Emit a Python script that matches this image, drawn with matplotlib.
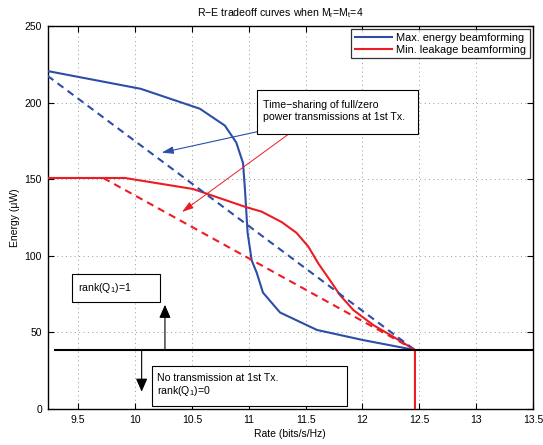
import matplotlib
matplotlib.use("Agg")
import matplotlib.pyplot as plt
from matplotlib.patches import Rectangle

plt.rcParams['font.family'] = ['Liberation Sans', 'DejaVu Sans']
plt.rcParams['mathtext.fontset'] = 'custom'
plt.rcParams['mathtext.rm'] = 'Liberation Sans'
plt.rcParams['mathtext.it'] = 'Liberation Sans'

# ---- data ----
max_energy_rate = [9.23, 10.05, 10.57, 10.79, 10.89, 10.95, 10.967, 10.99, 11.026,
                   11.07, 11.125, 11.275, 11.60, 12.005, 12.462]
max_energy_E = [220.6, 209, 196, 185, 174, 160.5, 143, 115, 97, 89, 76, 63, 51.6, 45, 38.5]

min_leak_rate = [9.23, 9.91, 10.51, 10.967, 11.114, 11.29, 11.42, 11.524, 11.612,
                 11.715, 11.802, 11.92, 12.095, 12.271, 12.462, 12.462]
min_leak_E = [150.8, 150.8, 143.6, 132, 128.8, 122, 115, 106, 95, 84, 74.4, 64.6,
              54.8, 47.2, 38.5, 0]

ts_blue_rate = [9.23, 12.462]
ts_blue_E = [217.5, 38.5]
ts_red_rate = [9.72, 12.462]
ts_red_E = [150.8, 38.5]

rank_line_rate = [9.30, 13.5]
rank_line_E = [38.5, 38.5]

xticks = [9.5, 10, 10.5, 11, 11.5, 12, 12.5, 13, 13.5]
yticks = [0, 50, 100, 150, 200, 250]

BLUE = '#2d4ea6'
RED = '#ec1c24'

fig = plt.figure(figsize=(5.43, 4.45), dpi=100)
ax = fig.add_axes([0.0875, 0.0809, 0.894, 0.8607])

ax.plot(max_energy_rate, max_energy_E, color=BLUE, lw=1.5, label='Max. energy beamforming', zorder=3)
ax.plot(min_leak_rate, min_leak_E, color=RED, lw=1.5, label='Min. leakage beamforming', zorder=3)
ax.plot(ts_blue_rate, ts_blue_E, color=BLUE, lw=1.5, ls=(0, (3.5, 2.5)), zorder=3)
ax.plot(ts_red_rate, ts_red_E, color=RED, lw=1.5, ls=(0, (3.5, 2.5)), zorder=3)
ax.plot(rank_line_rate, rank_line_E, color='black', lw=1.5, zorder=3)

ax.set_xlim(9.23, 13.5)
ax.set_ylim(0, 250)
ax.set_xticks(xticks)
ax.set_xticklabels(['9.5', '10', '10.5', '11', '11.5', '12', '12.5', '13', '13.5'])
ax.set_yticks(yticks)
ax.tick_params(direction='in', length=4, width=0.8, labelsize=7.5,
               top=True, right=True, pad=4)
ax.grid(True, color='0.6', ls=(0, (1, 3.5)), lw=0.7)
for s in ax.spines.values():
    s.set_linewidth(1.0)

ax.set_title('R\u2212E tradeoff curves when M$_r$=M$_t$=4', fontsize=7.6, pad=7, x=0.48)
ax.set_xlabel('Rate (bits/s/Hz)', fontsize=7.5, labelpad=3)
ax.set_ylabel('Energy (\u03bcW)', fontsize=7.5, labelpad=3)

leg = ax.legend(loc='upper right', fontsize=7.9, frameon=True, fancybox=False,
                edgecolor='black', borderpad=0.3, handlelength=3.4,
                handletextpad=0.4, labelspacing=0.2, borderaxespad=0.3)
leg.get_frame().set_linewidth(0.9)

# ---- annotation boxes ----
def box(x0, y0, x1, y1):
    r = Rectangle((x0, y0), x1 - x0, y1 - y0, transform=ax.transAxes,
                  facecolor='white', edgecolor='black', lw=0.8, zorder=5)
    ax.add_patch(r)

box(0.4315, 0.718, 0.763, 0.833)
ax.text(0.444, 0.778, 'Time\u2212sharing of full/zero\npower transmissions at 1st Tx.',
        transform=ax.transAxes, fontsize=7.6, va='center', ha='left', zorder=6,
        linespacing=1.15)

box(0.0511, 0.2783, 0.2317, 0.3524)
ax.text(0.062, 0.316, 'rank(Q$_1$)=1', transform=ax.transAxes, fontsize=7.6,
        va='center', ha='left', zorder=6)

box(0.2146, 0.0086, 0.6169, 0.1123)
ax.text(0.226, 0.062, 'No transmission at 1st Tx.\nrank(Q$_1$)=0', transform=ax.transAxes,
        fontsize=7.6, va='center', ha='left', zorder=6, linespacing=1.15)

# ---- arrows ----
ax.annotate('', xy=(10.234, 167.3), xytext=(11.075, 181),
            arrowprops=dict(arrowstyle='-|>,head_length=0.7,head_width=0.22',
                            color=BLUE, lw=0.8, shrinkA=0, shrinkB=0), zorder=4)
ax.annotate('', xy=(10.413, 128.6), xytext=(11.348, 179.3),
            arrowprops=dict(arrowstyle='-|>,head_length=0.7,head_width=0.22',
                            color=RED, lw=0.7, shrinkA=0, shrinkB=0), zorder=4)
ax.annotate('', xy=(10.263, 68), xytext=(10.263, 38.5),
            arrowprops=dict(arrowstyle='-|>,head_length=0.8,head_width=0.35',
                            color='black', lw=0.8, shrinkA=0, shrinkB=0), zorder=4)
ax.annotate('', xy=(10.058, 11.3), xytext=(10.058, 38.5),
            arrowprops=dict(arrowstyle='-|>,head_length=0.8,head_width=0.35',
                            color='black', lw=0.8, shrinkA=0, shrinkB=0), zorder=4)

fig.savefig('out.png', dpi=100)
